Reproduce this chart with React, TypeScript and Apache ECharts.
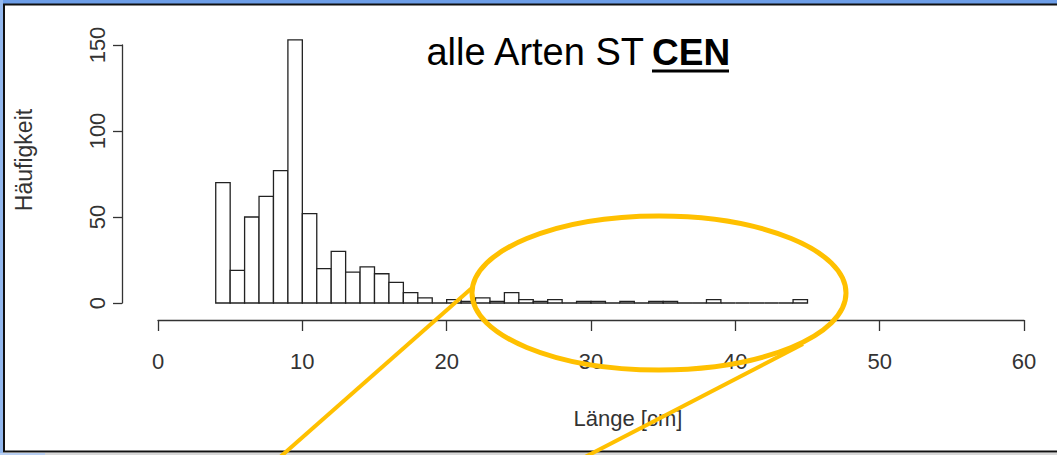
import React, { useEffect, useRef } from "react";
import * as echarts from "echarts";

// Histogram bin edges (Länge in cm) and counts (Häufigkeit)
const binEdges = [
  4, 5, 6, 7, 8, 9, 10, 11, 12, 13, 14, 15, 16, 17, 18, 19, 20, 21, 22, 23, 24,
  25, 26, 27, 28, 29, 30, 31, 32, 33, 34, 35, 36, 37, 38, 39, 40, 41, 42, 43, 44, 45,
];
const counts = [
  70, 19, 50, 62, 77, 153, 52, 20, 30, 18, 21, 17, 12, 6, 3, 0, 2, 1, 3, 1, 6,
  2, 1, 2, 0, 1, 1, 0, 1, 0, 1, 1, 0, 0, 2, 0, 0, 0, 0, 0, 2,
];
const xTicks = [0, 10, 20, 30, 40, 50, 60];
const yTicks = [0, 50, 100, 150];

const titleText = "alle Arten ST";
const titleBold = "CEN";
const xName = "Länge [cm]";
const yName = "Häufigkeit";

const FONT = "'Liberation Sans', Arial, sans-serif";
const ORANGE = "#FFC000";

export default function App() {
  const ref = useRef<HTMLDivElement>(null);
  useEffect(() => {
    document.body.style.margin = "0";
    const chart = echarts.init(ref.current!, undefined, { renderer: "svg" });
    const data = counts.map((c, i) => [binEdges[i], binEdges[i + 1], c]);
    chart.setOption({
      animation: false,
      backgroundColor: "#ffffff",
      grid: { left: 158, right: 33, top: 45, bottom: 152, containLabel: false },
      xAxis: {
        type: "value",
        min: xTicks[0],
        max: xTicks[xTicks.length - 1],
        interval: 10,
        position: "bottom",
        offset: 17,
        axisLine: { show: true, onZero: false, lineStyle: { color: "#333", width: 1.3 } },
        axisTick: { show: true, length: 11, lineStyle: { color: "#333", width: 1.3 } },
        axisLabel: { fontSize: 22, color: "#333", margin: 30, fontFamily: FONT },
        splitLine: { show: false },
      },
      yAxis: {
        type: "value",
        min: yTicks[0],
        max: yTicks[yTicks.length - 1],
        interval: 50,
        position: "left",
        offset: 36,
        axisLine: { show: true, onZero: false, lineStyle: { color: "#333", width: 1.3 } },
        axisTick: { show: true, length: 9, lineStyle: { color: "#333", width: 1.3 } },
        axisLabel: { fontSize: 22, color: "#333", margin: 14, rotate: 90, fontFamily: FONT },
        splitLine: { show: false },
      },
      series: [
        {
          type: "custom",
          clip: false,
          data,
          encode: { x: [0, 1], y: 2 },
          renderItem: (params: any, api: any) => {
            const x0 = api.value(0);
            const x1 = api.value(1);
            const c = api.value(2);
            const p0 = api.coord([x0, c]);
            const p1 = api.coord([x1, 0]);
            return {
              type: "rect",
              shape: { x: p0[0], y: p0[1], width: p1[0] - p0[0], height: p1[1] - p0[1] },
              style: { fill: "#ffffff", stroke: "#222", lineWidth: 1.3 },
            };
          },
        },
      ],
      graphic: [
        // slide background strips
        { type: "rect", shape: { x: 0, y: 0, width: 1057, height: 4 }, style: { fill: "#6d9ee8" }, z: 10 },
        { type: "rect", shape: { x: 0, y: 0, width: 3, height: 455 }, style: { fill: "#93b8ee" }, z: 10 },
        { type: "rect", shape: { x: 0, y: 453, width: 45, height: 2 }, style: { fill: "#b8cff2" }, z: 10 },
        { type: "rect", shape: { x: 45, y: 453, width: 1012, height: 2 }, style: { fill: "#d8d8d8" }, z: 10 },
        // black frame
        { type: "line", shape: { x1: 3, y1: 4.5, x2: 1057, y2: 4.5 }, style: { stroke: "#111", lineWidth: 2 }, z: 11 },
        { type: "line", shape: { x1: 4, y1: 4, x2: 4, y2: 452 }, style: { stroke: "#111", lineWidth: 2 }, z: 11 },
        { type: "line", shape: { x1: 3, y1: 451.5, x2: 1057, y2: 451.5 }, style: { stroke: "#111", lineWidth: 2 }, z: 11 },
        // axis names
        {
          type: "text",
          x: 24,
          y: 160,
          rotation: Math.PI / 2,
          style: { text: yName, fontSize: 23, fill: "#333", fontFamily: FONT, align: "center", verticalAlign: "middle" },
          z: 5,
        },
        {
          type: "text",
          x: 628,
          y: 418,
          style: { text: xName, fontSize: 22, fill: "#333", fontFamily: FONT, align: "center", verticalAlign: "middle" },
          z: 5,
        },
        // title
        {
          type: "text",
          x: 644,
          y: 52,
          style: { text: titleText, fontSize: 38, fill: "#000", fontFamily: FONT, align: "right", verticalAlign: "middle" },
          z: 5,
        },
        {
          type: "text",
          x: 652,
          y: 52,
          style: { text: titleBold, fontSize: 37, fontWeight: "bold", fill: "#000", fontFamily: FONT, align: "left", verticalAlign: "middle" },
          z: 5,
        },
        { type: "rect", shape: { x: 652, y: 69.5, width: 77, height: 3 }, style: { fill: "#000" }, z: 5 },
        // orange highlight
        {
          type: "ellipse",
          shape: { cx: 659, cy: 293, rx: 187, ry: 77 },
          style: { fill: "none", stroke: ORANGE, lineWidth: 5 },
          z: 20,
        },
        { type: "line", shape: { x1: 473, y1: 287, x2: 279, y2: 458 }, style: { stroke: ORANGE, lineWidth: 4 }, z: 20 },
        { type: "line", shape: { x1: 803, y1: 344, x2: 583, y2: 458 }, style: { stroke: ORANGE, lineWidth: 4 }, z: 20 },
      ],
    });
    return () => chart.dispose();
  }, []);
  return (
    <div
      ref={ref}
      style={{ position: "absolute", left: 0, top: 0, width: 1057, height: 455 }}
    />
  );
}
